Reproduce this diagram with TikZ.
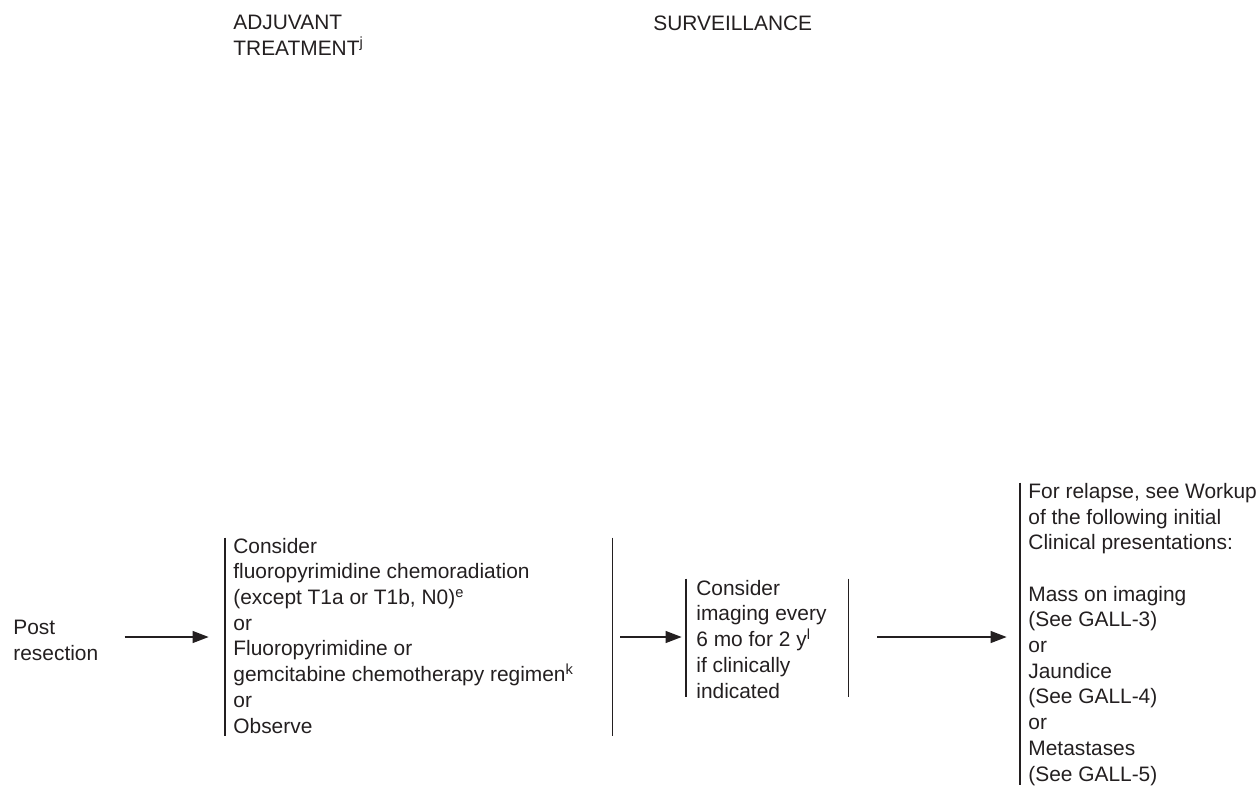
\documentclass[tikz,border=0pt]{standalone}
\usepackage{fontspec}
\setmainfont{Liberation Sans}
\usetikzlibrary{arrows.meta}
\definecolor{ink}{HTML}{231F20}

\begin{document}
\begin{tikzpicture}[x=0.5pt,y=-0.5pt,
  txt/.style={inner sep=0pt, anchor=base west, align=left, text=ink,
    font=\fontsize{10.45}{12.85}\selectfont},
  frame/.style={inner sep=0pt, draw=none},
  bar/.style={draw=ink, line width=0.9pt},
  flow/.style={draw=ink, line width=0.6pt, -{Triangle[length=8pt,width=6pt]}}]
\useasboundingbox (0,0) rectangle (1259,788);

% column headings (each node sits on the baseline of its last line)
\node[txt] (hdr1) at (233,55) {ADJUVANT\\TREATMENT\textsuperscript{j}};
\node[txt] (hdr2) at (653,30) {SURVEILLANCE};

% texts
\node[txt] (post) at (13,660) {Post\\resection};
\node[txt] (t1) at (233,733) {Consider\\fluoropyrimidine chemoradiation\\(except T1a or T1b, N0)\textsuperscript{e}\\or\\Fluoropyrimidine or\\gemcitabine chemotherapy regimen\textsuperscript{k}\\or\\Observe};
\node[txt] (t2) at (696,698) {Consider\\imaging every\\6 mo for 2 y\textsuperscript{l}\\if clinically\\indicated};
\node[txt] (t3) at (1028,781) {For relapse, see Workup\\of the following initial\\Clinical presentations:\\[12.85pt]Mass on imaging\\(See GALL-3)\\or\\Jaundice\\(See GALL-4)\\or\\Metastases\\(See GALL-5)};

% bracket frames
\node[frame, minimum width=193.5pt, minimum height=99pt] (b1) at (418.5,637) {};
\node[frame, minimum width=81pt, minimum height=59pt] (b2) at (767,638) {};
\node[frame, minimum width=0pt, minimum height=151pt] (b3) at (1020,634) {};
\draw[bar] (b1.north west) -- (b1.south west) (b1.north east) -- (b1.south east);
\draw[bar] (b2.north west) -- (b2.south west) (b2.north east) -- (b2.south east);
\draw[bar] (b3.north west) -- (b3.south west);

% connectors
\draw[flow, shorten <=13pt, shorten >=8pt] (post.east |- b1.west) -- (b1.west);
\draw[flow, shorten <=4pt, shorten >=2pt] (b1.east) -- (b1.east -| b2.west);
\draw[flow, shorten <=14.5pt, shorten >=6.5pt] (b2.east |- b1.east) -- (b1.east -| b3.west);
\end{tikzpicture}
\end{document}
